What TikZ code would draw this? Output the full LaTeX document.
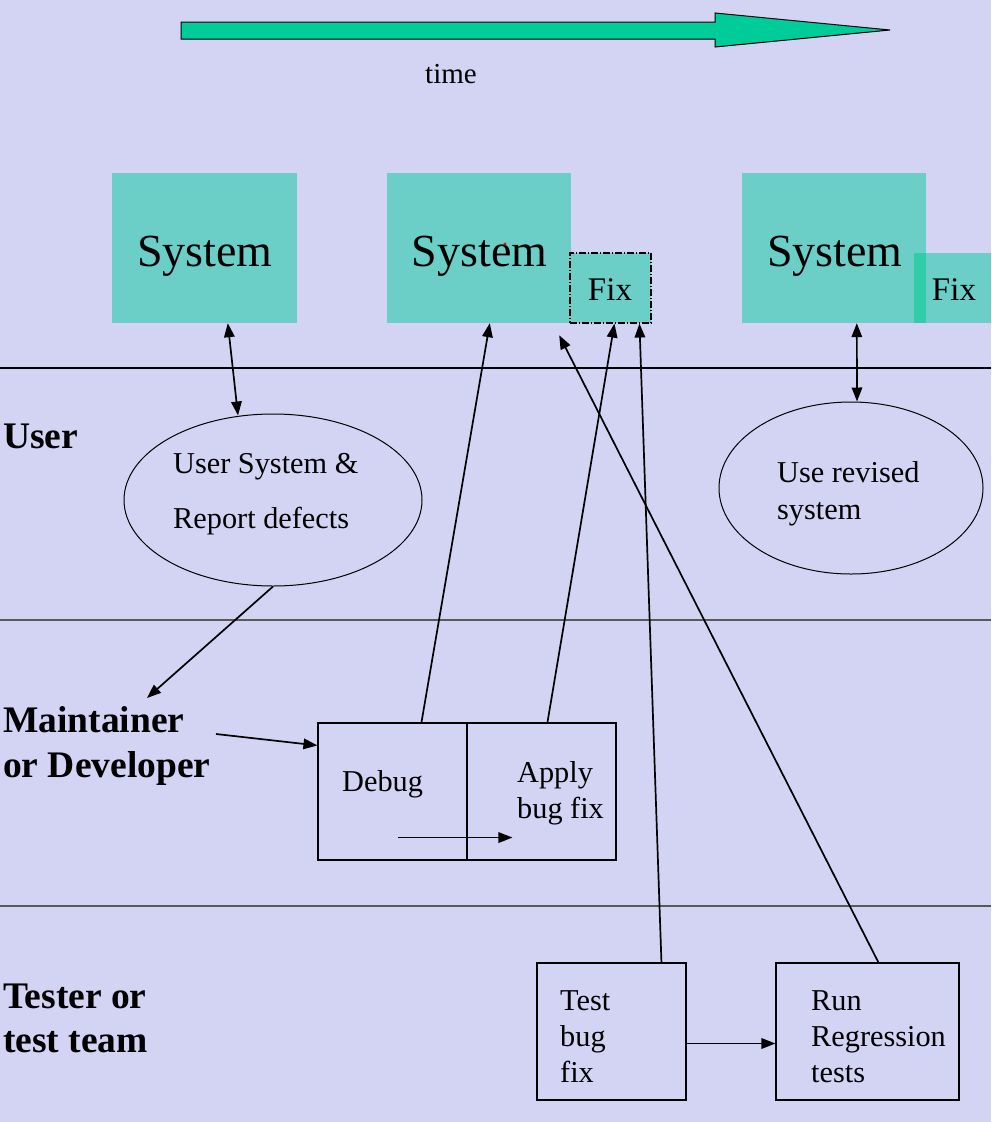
\documentclass[tikz,border=0pt]{standalone}
\usepackage{fontspec}
\setmainfont{Liberation Serif}
\usetikzlibrary{arrows.meta,calc,shapes.geometric}
\definecolor{bg}{RGB}{211,211,244}
\definecolor{sysc}{RGB}{107,207,199}
\definecolor{arrc}{RGB}{0,204,153}
\definecolor{stripc}{RGB}{51,204,170}
\begin{document}
\begin{tikzpicture}[x=1pt,y=-1pt,
  sysbox/.style={fill=sysc, draw=none, inner sep=0, minimum height=150pt, minimum width=184pt},
  fixbox/.style={fill=sysc, inner sep=0, minimum height=70pt},
  systext/.style={font=\fontsize{46}{46}\selectfont, anchor=base, inner sep=0},
  fixtext/.style={font=\fontsize{33}{33}\selectfont, anchor=base, inner sep=0},
  lane/.style={font=\fontsize{37.5}{37.5}\selectfont\bfseries, anchor=base west, inner sep=0},
  body/.style={font=\fontsize{30.3}{30.3}\selectfont, anchor=base west, inner sep=0},
  procbox/.style={draw, line width=1.1pt, inner sep=0, minimum height=137pt},
  oval/.style={ellipse, draw, line width=1pt, inner sep=0, minimum height=172pt},
  tip/.tip={Triangle[length=14pt,width=10.5pt]},
  conn/.style={line width=1.7pt, -tip},
  dconn/.style={line width=1.7pt, tip-tip},
  sepline/.style={line width=1.1pt}
]
\useasboundingbox (0,0) rectangle (991,1122);
\fill[bg] (0,0) rectangle (991,1122);

% time arrow
\draw[fill=arrc, line width=1pt] (181,22) -- (715,22) -- (715,13) -- (890,30) -- (715,47) -- (715,39) -- (181,39) -- cycle;
\node[body, anchor=base, font=\fontsize{29}{29}\selectfont] (time) at (451,83) {time};

% lane separators
\draw[sepline] (0,368) -- (991,368);
\draw[sepline, draw=black!65] (0,620) -- (991,620);
\draw[sepline, draw=black!65] (0,906) -- (991,906);

% systems
\node[sysbox, minimum width=185pt] (sys1) at (204.5,248) {};
\node[systext] (sys1t) at (205,266) {System};
\node[sysbox] (sys2) at (479,248) {};
\node[systext] (sys2t) at (479.5,266) {System};
\fill[red] (505,244) circle (1.6);
\node[fixbox, draw, dash pattern=on 7pt off 2pt on 1pt off 2pt, line width=1.1pt, minimum width=81pt] (fix2) at (610.5,288) {};
\node[fixtext] (fix2t) at (610,300) {Fix};
\node[sysbox] (sys3) at (834,248) {};
\node[systext] (sys3t) at (835,266) {System};
\node[fixbox, minimum width=77pt] (fix3) at (952.5,288) {};
\fill[stripc] (fix3.north west) rectangle (sys3.south east);
\node[fixtext] (fix3t) at (954,300) {Fix};

% lane labels
\node[lane] (luser) at (3,448) {User};
\node[lane] (lm1) at (3,732) {Maintainer};
\node[lane] (lm2) at (3,777) {or Developer};
\node[lane] (lt1) at (3,1008) {Tester or};
\node[lane] (lt2) at (3,1052) {test team};

% ellipses
\node[oval, minimum width=298pt] (ell1) at (273,500) {};
\node[body] (e1a) at (173,473) {User System \&};
\node[body] (e1b) at (173,528) {Report defects};
\node[oval, minimum width=264pt] (ell2) at (851,488) {};
\node[body] (e2a) at (777,482) {Use revised};
\node[body] (e2b) at (777,519) {system};

% maintainer boxes
\node[procbox, minimum width=149pt] (dbg) at (392.5,791.5) {};
\node[procbox, minimum width=149pt] (apl) at (541.5,791.5) {};
\node[body] (dbgt) at (342,791) {Debug};
\node[body] (aplt1) at (517,782) {Apply};
\node[body] (aplt2) at (517,818) {bug fix};

% tester boxes
\node[procbox, minimum width=149pt] (tst) at (611.5,1031.5) {};
\node[body] (tst1) at (560,1010) {Test};
\node[body] (tst2) at (560,1046) {bug};
\node[body] (tst3) at (560,1082) {fix};
\node[procbox, minimum width=183pt] (run) at (867.5,1031.5) {};
\node[body] (run1) at (811,1010) {Run};
\node[body] (run2) at (811,1046) {Regression};
\node[body] (run3) at (811,1082) {tests};

% free ends
\coordinate (repin) at (147,698);
\coordinate (mout) at (216,734);
\coordinate (regin) at ($(sys2.south east)+(-12,12)$);

% connectors
\draw[dconn] ($(sys1.south west)+(116,0)$) -- ($(ell1.north)+(-35,2)$);
\draw[dconn] ($(sys3.south west)+(115,0)$) -- ($(ell2.north)+(6,0)$);
\draw[conn] (ell1.south) -- (repin);
\draw[conn] (mout) -- ($(dbg.north west)+(0,23)$);
\draw[conn] ($(dbg.north west)+(104,0)$) -- ($(sys2.south west)+(103,0)$);
\draw[conn] ($(apl.north west)+(81,0)$) -- ($(fix2.south west)+(45,0)$);
\draw[conn] ($(dbg.south west)+(81,-23)$) -- ($(apl.south west)+(46,-23)$);
\draw[conn] ($(tst.north west)+(125,0)$) -- ($(fix2.south west)+(70,0)$);
\draw[conn] ($(run.north west)+(103,0)$) -- (regin);
\draw[conn] ($(tst.east)+(0,12)$) -- ($(run.west)+(0,12)$);
\end{tikzpicture}
\end{document}
